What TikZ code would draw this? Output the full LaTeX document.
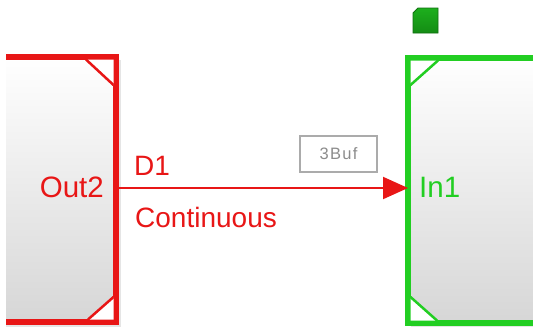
\documentclass[tikz,border=0pt]{standalone}
\usepackage{fontspec}
\setmainfont{Liberation Sans}
\usetikzlibrary{arrows.meta,calc}
\definecolor{sred}{RGB}{232,22,22}
\definecolor{sgreen}{RGB}{34,206,34}
\definecolor{dgreen}{RGB}{20,140,20}
\begin{document}
\begin{tikzpicture}[x=1pt,y=-1pt,
  block/.style={rectangle, inner sep=0pt, outer sep=0pt, top color=white, bottom color=black!16},
  rim/.style={line width=5.5pt, line join=miter},
  shadowbox/.style={fill=black!10, draw=none},
  lbl/.style={inner sep=0pt, font=\fontsize{28}{31}\selectfont},
  blbl/.style={inner sep=0pt, font=\fontsize{29.5}{33}\selectfont}]
\useasboundingbox (0,0) rectangle (533,330);
\fill[white] (0,0) rectangle (533,330);
% blocks
\begin{scope}
\clip (6,0) rectangle (533,330);
\fill[shadowbox] (-20,60) rectangle (121,327);
\fill[shadowbox] (411,61) rectangle (560,327);
\node[block, minimum width=136pt, minimum height=265pt] (outblk) at (48,189.5) {};
\node[block, minimum width=152pt, minimum height=265pt] (inblk) at (484,190.5) {};
\draw[rim, sred] (outblk.north west) rectangle (outblk.south east);
\draw[rim, sgreen] (inblk.north west) rectangle (inblk.south east);
\end{scope}
% corner marks (inside the borders)
\fill[white] ($(outblk.north east)+(-30,2.5)$) -- ($(outblk.north east)+(-2.5,28)$) -- ($(outblk.north east)+(-2.5,2.5)$) -- cycle;
\draw[sred, line width=2.5pt] ($(outblk.north east)+(-30,2.5)$) -- ($(outblk.north east)+(-2.5,28)$);
\fill[white] ($(outblk.south east)+(-28,-2.5)$) -- ($(outblk.south east)+(-2.5,-25)$) -- ($(outblk.south east)+(-2.5,-2.5)$) -- cycle;
\draw[sred, line width=2.5pt] ($(outblk.south east)+(-28,-2.5)$) -- ($(outblk.south east)+(-2.5,-25)$);
\fill[white] ($(inblk.north west)+(30,2.5)$) -- ($(inblk.north west)+(2.5,27)$) -- ($(inblk.north west)+(2.5,2.5)$) -- cycle;
\draw[sgreen, line width=2.5pt] ($(inblk.north west)+(30,2.5)$) -- ($(inblk.north west)+(2.5,27)$);
\fill[white] ($(inblk.south west)+(29,-2.5)$) -- ($(inblk.south west)+(2.5,-26)$) -- ($(inblk.south west)+(2.5,-2.5)$) -- cycle;
\draw[sgreen, line width=2.5pt] ($(inblk.south west)+(29,-2.5)$) -- ($(inblk.south west)+(2.5,-26)$);
% labels in blocks
\node[blbl, text=sred, anchor=east] (out2) at (104,187.5) {Out2};
\node[blbl, text=sgreen, anchor=west] (in1) at (419,187.5) {In1};
% connector
\coordinate (p1) at (outblk.east |- 0,188);
\coordinate (p2) at (inblk.west |- 0,188);
\draw[sred, line width=2pt, -{Triangle[length=25pt,width=22pt]}] (p1) -- (p2);
\node[lbl, text=sred, anchor=west] (d1) at (134,165.5) {D1};
\node[lbl, text=sred, anchor=west] (cont) at (135,217) {Continuous};
\node[draw=black!33, line width=1.3pt, minimum width=77pt, minimum height=36pt, inner sep=0pt,
  text=black!45, font=\fontsize{16.5}{18}\selectfont\addfontfeature{LetterSpace=8}] (buf) at (338.5,154) {3Buf};
% green icon
\shade[top color=sgreen!85!black, bottom color=dgreen, draw=dgreen!80!black, line width=0.8pt]
  (413,33) -- (413,13) -- (418,8) -- (438,8) -- (438,33) -- cycle;
\end{tikzpicture}
\end{document}
